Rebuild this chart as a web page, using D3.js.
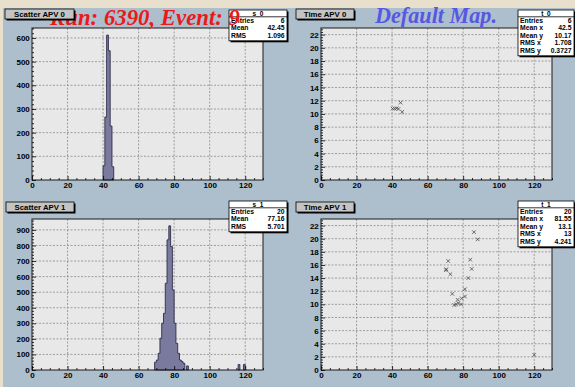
<!DOCTYPE html>
<html><head><meta charset="utf-8">
<script src="https://cdn.jsdelivr.net/npm/d3@7"></script>
<style>
html,body{margin:0;padding:0;background:#e8e0cc;}
svg{display:block}
</style></head><body>
<svg id="c" width="575" height="387"></svg>
<script>
// ---------------- data ----------------
const xTicks = [0,20,40,60,80,100,120];
const s0Ticks = [0,100,200,300,400,500,600];
const s1Ticks = [0,100,200,300,400,500,600,700,800,900];
const tTicks = [0,2,4,6,8,10,12,14,16,18,20,22];

const s0Bins   = [40,41,42,43,44,45];
const s0Counts = [60,266,612,546,228,56];

const s1Bins   = [69,70,71,72,73,74,75,76,77,78,79,80,81,82,83,84,85,87,116,119];
const s1Counts = [50,64,107,204,300,364,557,836,926,793,514,300,171,107,64,54,43,26,35,35];

const t0X = [40.3,41.5,42.6,43.6,44.8,45.7];
const t0Y = [10.8,10.8,10.85,10.75,11.7,10.3];

const t1X = [86.1,88.2,71.6,84.0,70.3,70.5,72.8,84.8,82.9,81.0,73.9,81.0,79.2,76.9,77.3,75.0,78.8,76.0,120.0];
const t1Y = [21.0,19.9,16.6,16.8,15.2,15.35,14.6,15.4,14.0,12.3,11.6,11.2,10.9,10.7,10.2,9.9,10.0,10.0,2.3];

const titles = ["Scatter APV 0","Time APV 0","Scatter APV 1","Time APV 1"];
const statNames = ["s_0","t_0","s_1","t_1"];
const s0StatLabels = ["Entries","Mean","RMS"];
const s0StatValues = ["6","42.45","1.096"];
const t0StatLabels = ["Entries","Mean x","Mean y","RMS x","RMS y"];
const t0StatValues = ["6","42.5","10.17","1.708","0.3727"];
const s1StatLabels = ["Entries","Mean","RMS"];
const s1StatValues = ["20","77.16","5.701"];
const t1StatLabels = ["Entries","Mean x","Mean y","RMS x","RMS y"];
const t1StatValues = ["20","81.55","13.1","13","4.241"];

const runText = "Run: 6390, Event: 9";
const mapText = "Default Map.";

// ---------------- drawing ----------------
const svg = d3.select("#c");
svg.append("rect").attr("x",0).attr("y",0).attr("width",575).attr("height",387).attr("fill","#e8e0cc");
svg.append("rect").attr("x",3).attr("y",8).attr("width",572).attr("height",379).attr("fill","#adbecd");

const FONT = "'Liberation Sans',Arial,sans-serif";
const SERIF = "'Liberation Serif','Times New Roman',Times,serif";
const range = (a,b,s)=>{const r=[];for(let v=a;v<=b+1e-9;v+=s)r.push(+v.toFixed(4));return r;};

const pads = [
  {fx:32, fy:28, fw:231, fh:152, ymax:642, yt:s0Ticks, ymin:20, type:"h", bins:s0Bins, counts:s0Counts,
   title:titles[0], tb:[5,9,69,10], stat:statNames[0], sl:s0StatLabels, sv:s0StatValues, sb:[229,10,58]},
  {fx:321, fy:28, fw:231, fh:152, ymax:23, yt:tTicks, ymin:0.4, type:"s", px:t0X, py:t0Y,
   title:titles[1], tb:[296,9,58,10], stat:statNames[1], sl:t0StatLabels, sv:t0StatValues, sb:[518,10,56]},
  {fx:32, fy:219, fw:231, fh:151, ymax:970, yt:s1Ticks, ymin:20, type:"h", bins:s1Bins, counts:s1Counts,
   title:titles[2], tb:[6,202,68,10], stat:statNames[2], sl:s1StatLabels, sv:s1StatValues, sb:[229,201,58]},
  {fx:321, fy:219, fw:231, fh:151, ymax:23, yt:tTicks, ymin:0.4, type:"s", px:t1X, py:t1Y,
   title:titles[3], tb:[296,202,58,10], stat:statNames[3], sl:t1StatLabels, sv:t1StatValues, sb:[518,201,56]}
];

function txt(sel, fam, size, weight){ return sel.style("font-family",fam).style("font-size",size+"px").style("font-weight",weight||"bold"); }

pads.forEach((p,i)=>{
  const g = svg.append("g");
  const x = d3.scaleLinear().domain([0,130]).range([p.fx, p.fx+p.fw]);
  const y = d3.scaleLinear().domain([0,p.ymax]).range([p.fy+p.fh, p.fy]);
  g.append("rect").attr("x",p.fx).attr("y",p.fy).attr("width",p.fw).attr("height",p.fh).attr("fill","#e8e8e8");
  const gg = g.append("g").attr("stroke","#8c8c8c").attr("stroke-width",0.8).attr("stroke-dasharray","2,1.5");
  xTicks.filter(v=>v>0).forEach(v=>gg.append("line").attr("x1",x(v)).attr("x2",x(v)).attr("y1",p.fy).attr("y2",p.fy+p.fh));
  p.yt.filter(v=>v>0).forEach(v=>gg.append("line").attr("x1",p.fx).attr("x2",p.fx+p.fw).attr("y1",y(v)).attr("y2",y(v)));
  if(p.type==="h"){
    const hg = g.append("g");
    let segs=[], cur=[];
    p.bins.forEach((b,k)=>{
      if(k>0 && p.bins[k-1]!==b-1){ cur.push([x(p.bins[k-1]+1),y(0)]); segs.push(cur); cur=[]; }
      if(cur.length===0) cur.push([x(b),y(0)]);
      cur.push([x(b),y(p.counts[k])]); cur.push([x(b+1),y(p.counts[k])]);
    });
    cur.push([x(p.bins[p.bins.length-1]+1),y(0)]); segs.push(cur);
    segs.forEach(s=>hg.append("path").attr("d",d3.line()(s)+"Z").attr("fill","#7a7a9e").attr("stroke","#2c2c48").attr("stroke-width",0.9).attr("stroke-linejoin","miter"));
  } else {
    const mg = g.append("g").attr("stroke","#4a4a4a").attr("stroke-width",0.8);
    p.px.forEach((vx,k)=>{
      const cx=x(vx), cy=y(p.py[k]), r=1.8;
      mg.append("path").attr("d",`M${cx-r},${cy-r}L${cx+r},${cy+r}M${cx-r},${cy+r}L${cx+r},${cy-r}`);
    });
  }
  g.append("rect").attr("x",p.fx).attr("y",p.fy).attr("width",p.fw).attr("height",p.fh).attr("fill","none").attr("stroke","#1a1a1a").attr("stroke-width",1);
  const xa = g.append("g").attr("transform",`translate(0,${p.fy+p.fh})`)
    .call(d3.axisBottom(x).tickValues(xTicks).tickFormat(d3.format("d")).tickSizeInner(-4).tickSizeOuter(0).tickPadding(2.3));
  const xm = g.append("g").attr("transform",`translate(0,${p.fy+p.fh})`)
    .call(d3.axisBottom(x).tickValues(range(0,130,5).filter(v=>v%20!==0)).tickFormat("").tickSizeInner(-2).tickSizeOuter(0));
  const ya = g.append("g").attr("transform",`translate(${p.fx},0)`)
    .call(d3.axisLeft(y).tickValues(p.yt).tickFormat(d3.format("d")).tickSizeInner(-4).tickSizeOuter(0).tickPadding(2.2));
  const ym = g.append("g").attr("transform",`translate(${p.fx},0)`)
    .call(d3.axisLeft(y).tickValues(range(0,p.ymax,p.ymin).filter(v=>!p.yt.includes(v))).tickFormat("").tickSizeInner(-2).tickSizeOuter(0));
  [xa,xm,ya,ym].forEach(a=>{a.select(".domain").remove(); a.selectAll("line").attr("stroke","#000").attr("stroke-width",0.8);});
  [xa,ya].forEach(a=>txt(a.selectAll("text"),FONT,8).attr("fill","#000"));

  const [sx,sy,sw] = p.sb;
  const rowH = 7.5, headH = 6.8;
  const sh = headH + rowH*p.sl.length + 1.5;
  const sg = g.append("g");
  sg.append("rect").attr("x",sx+1.5).attr("y",sy+1.5).attr("width",sw).attr("height",sh).attr("fill","#000");
  sg.append("rect").attr("x",sx).attr("y",sy).attr("width",sw).attr("height",sh).attr("fill","#fff").attr("stroke","#000").attr("stroke-width",0.8);
  sg.append("line").attr("x1",sx).attr("x2",sx+sw).attr("y1",sy+headH).attr("y2",sy+headH).attr("stroke","#000").attr("stroke-width",0.8);
  txt(sg.append("text").attr("x",sx+sw/2).attr("y",sy+headH-1).attr("text-anchor","middle"),FONT,6.5).text(p.stat);
  p.sl.forEach((l,k)=>{
    const ty = sy+headH+rowH*(k+1)-1.6;
    txt(sg.append("text").attr("x",sx+2).attr("y",ty),FONT,6.8).text(l);
    txt(sg.append("text").attr("x",sx+sw-2.5).attr("y",ty).attr("text-anchor","end"),FONT,6.8).text(p.sv[k]);
  });
});

function fitText(t, w, fs){ const len=t.node().getComputedTextLength(); t.style("font-size",(fs*w/len)+"px"); }
const rt = txt(svg.append("text").attr("x",145).attr("y",25).attr("text-anchor","middle"),SERIF,22)
  .style("font-style","italic").attr("fill","#e81a1a").text(runText);
fitText(rt,190,22);
const mt = txt(svg.append("text").attr("x",436).attr("y",23).attr("text-anchor","middle"),SERIF,22)
  .style("font-style","italic").attr("fill","#5757e3").text(mapText);
fitText(mt,122,22);

pads.forEach(p=>{
  const [bx,by,bw,bh] = p.tb;
  const tg = svg.append("g");
  tg.append("rect").attr("x",bx+1.5).attr("y",by+1.5).attr("width",bw).attr("height",bh).attr("fill","#000");
  tg.append("rect").attr("x",bx).attr("y",by).attr("width",bw).attr("height",bh).attr("fill","#c4c4c4").attr("stroke","#000").attr("stroke-width",0.8);
  txt(tg.append("text").attr("x",bx+bw/2).attr("y",by+bh/2+2.8).attr("text-anchor","middle"),FONT,7.8).text(p.title);
});
</script>
</body></html>
